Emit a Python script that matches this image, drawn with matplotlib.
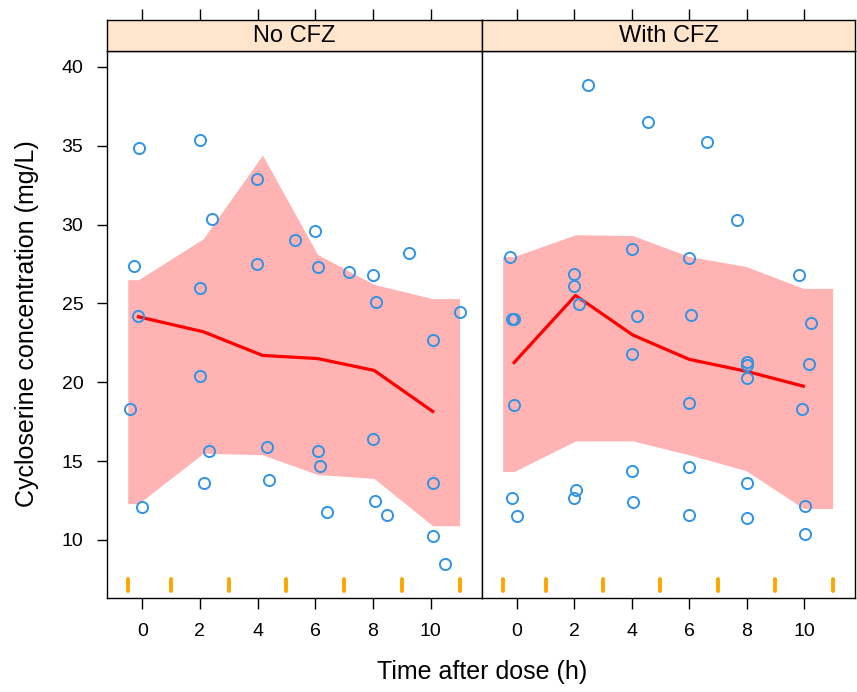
"""VPC-style lattice panels: cycloserine concentration vs time, with/without CFZ."""
import matplotlib.pyplot as plt
import numpy as np
from matplotlib import rcParams

rcParams["font.family"] = ["Liberation Sans", "DejaVu Sans"]

# --- data ---------------------------------------------------------------
panels = ["No CFZ", "With CFZ"]

# observed concentrations (time h, conc mg/L)
obs_t_no = [-0.10, 2.0, 3.99, 2.41, 5.30, -0.27, 3.99, 2.0, -0.15, 6.0, 6.09,
            7.16, 8.01, 9.25, 8.09, 11.0, 10.08, 2.0, -0.43, 2.32, 4.32, 2.15,
            4.41, -0.01, 8.0, 6.09, 6.18, 10.08, 6.42, 8.08, 8.48, 10.08, 10.5]
obs_c_no = [34.84, 35.37, 32.88, 30.38, 28.99, 27.4, 27.51, 26.0, 24.17, 29.56,
            27.3, 26.98, 26.77, 28.19, 25.08, 24.48, 22.69, 20.41, 18.29, 15.67,
            15.88, 13.6, 13.81, 12.08, 16.41, 15.67, 14.7, 13.6, 11.8, 12.48,
            11.61, 10.28, 8.48]

obs_t_cfz = [2.49, 4.57, -0.25, 4.02, 2.0, 2.0, 2.16, -0.17, -0.09, 4.17, 4.02,
             6.61, 7.67, 6.0, 9.83, 6.08, 10.24, 8.0, 8.0, 8.0, 10.17, -0.09,
             4.02, -0.17, 0.0, 2.06, 1.99, 4.05, 6.0, 6.0, 6.0, 8.0, 8.0, 9.95,
             10.03, 10.03]
obs_c_cfz = [38.86, 36.47, 27.97, 28.46, 26.87, 26.07, 24.97, 24.0, 24.0, 24.17,
             21.8, 35.2, 30.28, 27.89, 26.77, 24.29, 23.77, 21.3, 21.1, 20.28,
             21.17, 18.57, 14.4, 12.69, 11.53, 13.18, 12.69, 12.4, 18.7, 14.64,
             11.59, 13.62, 11.4, 18.31, 12.16, 10.39]

# bin boundaries and per-bin summaries
bin_edges = [-0.5, 1, 3, 5, 7, 9, 11]

bin_t_no = [-0.13, 2.12, 4.17, 6.08, 8.04, 10.07]
pi_hi_no = [26.5, 29.1, 34.4, 28.1, 26.2, 25.3]
median_no = [24.15, 23.2, 21.7, 21.5, 20.75, 18.15]
pi_lo_no = [12.3, 15.5, 15.4, 14.15, 13.9, 10.9]

bin_t_cfz = [-0.1, 2.04, 4.03, 6.0, 7.98, 9.98]
pi_hi_cfz = [27.97, 29.35, 29.3, 27.97, 27.34, 25.95]
median_cfz = [21.25, 25.5, 23.0, 21.45, 20.7, 19.75]
pi_lo_cfz = [14.34, 16.28, 16.28, 15.4, 14.4, 12.0]

x_ticks = [0, 2, 4, 6, 8, 10]
y_ticks = [10, 15, 20, 25, 30, 35, 40]

# --- style --------------------------------------------------------------
PT_COL = "#2f94e6"
BAND = "#ffb3b3"
LINE = "#ff0000"
RUG = "#ffa500"
STRIP = "#ffe5cc"
XLIM = (-1.22, 11.78)
YLIM = (6.32, 41.0)

W, H = 857, 692
fig = plt.figure(figsize=(W / 100, H / 100), dpi=100)

panel_px = [(107, 482), (482, 855)]
top_px, bot_px = 51, 598
strip_top = 20

series = [
    (obs_t_no, obs_c_no, bin_t_no, pi_lo_no, pi_hi_no, median_no),
    (obs_t_cfz, obs_c_cfz, bin_t_cfz, pi_lo_cfz, pi_hi_cfz, median_cfz),
]

for i, ((x0, x1), name, s) in enumerate(zip(panel_px, panels, series)):
    t, c, bt, lo, hi, med = s
    ax = fig.add_axes([x0 / W, 1 - bot_px / H, (x1 - x0) / W, (bot_px - top_px) / H])
    ax.set_xlim(*XLIM)
    ax.set_ylim(*YLIM)

    # band extended flat to the outer bin edges
    bx = [bin_edges[0]] + bt + [bin_edges[-1]]
    blo = [lo[0]] + lo + [lo[-1]]
    bhi = [hi[0]] + hi + [hi[-1]]
    ax.fill_between(bx, blo, bhi, color=BAND, linewidth=0, zorder=1)
    ax.plot(bt, med, color=LINE, lw=2.3, zorder=2)
    ax.plot(t, c, "o", mfc="none", mec=PT_COL, ms=8, mew=1.4, zorder=3)

    # bin boundary rug
    for e in bin_edges:
        ax.plot([e, e], [0.012, 0.034], color=RUG, lw=2.8,
                solid_capstyle="round", transform=ax.get_xaxis_transform(),
                zorder=2)

    ax.set_xticks(x_ticks)
    ax.set_xticklabels([str(v) for v in x_ticks])
    ax.tick_params(axis="x", direction="out", length=8, width=1, pad=10,
                   labelsize=14)
    if i == 0:
        ax.set_yticks(y_ticks)
        ax.tick_params(axis="y", direction="out", length=7, width=1, pad=10,
                       labelsize=14)
    else:
        ax.set_yticks([])
    for sp in ax.spines.values():
        sp.set_linewidth(1.0)

    # strip with the top ticks
    sx = fig.add_axes([x0 / W, 1 - top_px / H, (x1 - x0) / W, (top_px - strip_top) / H])
    sx.set_facecolor(STRIP)
    sx.set_xlim(*XLIM)
    sx.set_xticks(x_ticks)
    sx.set_yticks([])
    sx.tick_params(axis="x", top=True, bottom=False, labeltop=False,
                   labelbottom=False, direction="out", length=8, width=1)
    sx.text(0.5, 0.47, name, transform=sx.transAxes, ha="center", va="center",
            fontsize=17)
    for sp in sx.spines.values():
        sp.set_linewidth(1.0)

fig.text(482 / W, 1 - 672 / H, "Time after dose (h)", ha="center", va="center",
         fontsize=18)
fig.text(27 / W, 1 - 324 / H, "Cycloserine concentration (mg/L)", ha="center",
         va="center", rotation=90, fontsize=18)

fig.savefig("out.png", dpi=100, facecolor="white")
